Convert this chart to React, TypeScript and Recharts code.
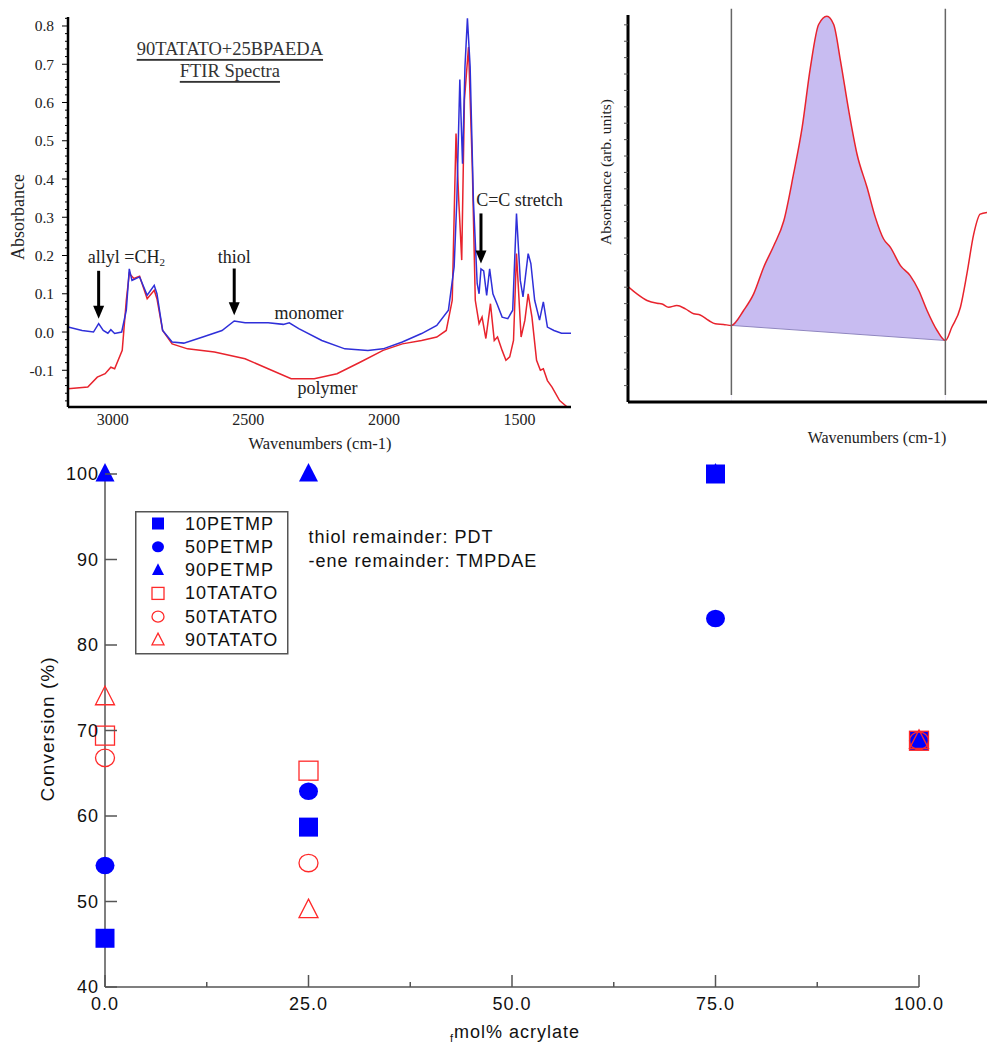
import React from 'react';
import {
  ComposedChart,
  Line,
  Area,
  XAxis,
  YAxis,
  ReferenceDot,
  ReferenceLine,
  ScatterChart,
  Scatter,
  Legend,
} from 'recharts';

const SERIF = '"Liberation Serif", "Times New Roman", serif';
const SANS = '"Liberation Sans", Arial, sans-serif';

// ---- top-left: FTIR spectra ----
const monomerWn = [
  3165, 3113, 3071, 3052, 3035, 3018, 3007, 2993, 2967, 2950, 2939, 2929, 2901, 2873, 2847, 2837,
  2816, 2781, 2738, 2668, 2597, 2552, 2512, 2427, 2371, 2349, 2314, 2229, 2144, 2059, 2003, 1932,
  1861, 1805, 1762, 1741, 1731, 1720, 1710, 1701, 1692, 1682, 1670, 1656, 1649, 1642, 1632, 1621,
  1610, 1598, 1583, 1564, 1543, 1525, 1511, 1497, 1487, 1468, 1458, 1444, 1426, 1412, 1397, 1373,
  1345, 1310,
];
const monomerAbs = [
  0.013, 0.004, 0.0, 0.022, 0.004, -0.003, 0.006, -0.004, 0.0, 0.057, 0.165, 0.135, 0.144, 0.096,
  0.122, 0.1, 0.004, -0.026, -0.029, -0.013, 0.004, 0.029, 0.024, 0.024, 0.02, 0.024, 0.009, -0.022,
  -0.044, -0.048, -0.044, -0.026, -0.004, 0.017, 0.057, 0.17, 0.345, 0.66, 0.44, 0.694, 0.82, 0.694,
  0.345, 0.127, 0.1, 0.165, 0.16, 0.096, 0.165, 0.1, 0.074, 0.039, 0.035, 0.057, 0.31, 0.135, 0.092,
  0.205, 0.179, 0.083, 0.031, 0.079, 0.013, 0.004, -0.003, -0.003,
];
const polymerWn = [
  3165, 3092, 3057, 3028, 3007, 2993, 2965, 2950, 2939, 2922, 2901, 2873, 2847, 2837, 2816, 2781,
  2724, 2625, 2512, 2427, 2342, 2257, 2173, 2088, 2003, 1932, 1861, 1805, 1770, 1748, 1734, 1724,
  1713, 1703, 1688, 1674, 1663, 1649, 1638, 1624, 1607, 1593, 1581, 1564, 1550, 1536, 1522, 1511,
  1494, 1480, 1468, 1454, 1437, 1423, 1412, 1397, 1380, 1352, 1324, 1310,
];
const polymerAbs = [
  -0.148, -0.144, -0.118, -0.109, -0.092, -0.096, -0.048, 0.083, 0.153, 0.14, 0.146, 0.087, 0.109,
  0.087, 0.004, -0.031, -0.044, -0.052, -0.07, -0.096, -0.122, -0.122, -0.109, -0.079, -0.048,
  -0.031, -0.022, -0.013, 0.004, 0.083, 0.519, 0.345, 0.188, 0.607, 0.745, 0.432, 0.083, 0.022,
  0.039, -0.017, 0.074, -0.022, -0.013, -0.048, -0.074, -0.065, -0.022, 0.205, -0.013, 0.031, 0.1,
  0.039, -0.074, -0.1, -0.096, -0.127, -0.144, -0.179, -0.196, -0.196,
];
const wnTicks = [3000, 2500, 2000, 1500];

// arrows: wavenumber, top of shaft, tip
const arrowWn = [3052, 2552, 1642];
const arrowTop = [0.16, 0.166, 0.31];
const arrowTip = [0.035, 0.044, 0.179];

const notes = [
  { text: 'thiol', wn: 2552, abs: 0.196 },
  { text: 'monomer', wn: 2276, abs: 0.05 },
  { text: 'polymer', wn: 2208, abs: -0.146 },
  { text: 'C=C stretch', wn: 1500, abs: 0.345 },
];

// ---- top-right: integrated band ----
const bandX = [
  0, 2.5, 5.3, 8.1, 9.5, 11.3, 13.6, 16.0, 18.3, 20.1, 22.5, 24.3, 26.6, 28.8, 32.2, 35.0, 37.8,
  40.6, 43.4, 46.1, 48.5, 50.8, 53.1, 55.4, 57.3, 59.2, 61.5, 63.8, 66.6, 68.9, 71.2, 73.1, 75.9,
  78.6, 81.0, 83.3, 86.1, 88.4, 90.2, 92.6, 94.4, 96.3, 98.1, 100,
];
const bandY = [
  7.04, 6.59, 6.19, 6.02, 5.98, 5.78, 5.88, 5.68, 5.38, 5.31, 4.97, 4.77, 4.73, 4.67, 5.58, 6.59,
  8.22, 9.53, 11.05, 13.89, 16.73, 20.39, 23.02, 23.53, 23.02, 20.79, 17.75, 15.11, 13.08, 11.26,
  9.94, 9.43, 8.32, 7.71, 6.8, 5.58, 4.36, 3.75, 4.56, 5.78, 7.81, 10.24, 11.46, 11.56,
];
const bandLimits = [28.8, 88.4];
const baselineY = [4.67, 3.75];
const bandTicks = [1, 2, 3, 4, 5, 6, 7, 8, 9, 10, 11, 12, 13, 14, 15, 16, 17, 18, 19, 20, 21, 22, 23];

// ---- bottom: conversion vs acrylate ----
const acrylate = [0, 25, 75, 100];
const petmp10 = [45.7, 58.7, 100, 68.8];
const petmp50 = [54.2, 62.9, 83.1, 68.8];
const petmp90 = [100, 100, 100, 68.8];
const tatato10 = [69.4, 65.3, null, 68.8];
const tatato50 = [66.8, 54.5, null, 68.8];
const tatato90 = [73.9, 49.0, null, 68.8];
const acrylateTicks = [0, 12.5, 25, 37.5, 50, 62.5, 75, 87.5, 100];
const convTicks = [40, 50, 60, 70, 80, 90, 100];

const BLUE = '#0000ff';
const RED = '#ff2a2a';

const series = [
  { name: '10PETMP', values: petmp10, shape: 'square', filled: true, color: BLUE },
  { name: '50PETMP', values: petmp50, shape: 'circle', filled: true, color: BLUE },
  { name: '90PETMP', values: petmp90, shape: 'triangle', filled: true, color: BLUE },
  { name: '10TATATO', values: tatato10, shape: 'square', filled: false, color: RED },
  { name: '50TATATO', values: tatato50, shape: 'circle', filled: false, color: RED },
  { name: '90TATATO', values: tatato90, shape: 'triangle', filled: false, color: RED },
];

const monomerData = monomerWn.map((wn, i) => ({ wn, a: monomerAbs[i] }));
const polymerData = polymerWn.map((wn, i) => ({ wn, a: polymerAbs[i] }));
const absMinor: number[] = [];
for (let i = -9; i <= 41; i++) absMinor.push(i / 50);

const bandData = bandX.map((x, i) => ({ x, y: bandY[i] }));
const peakData = bandData.filter((d) => d.x >= bandLimits[0] && d.x <= bandLimits[1]);
const baselineData = bandLimits.map((x, i) => ({ x, y: baselineY[i] }));

const isMajor = (v: number) => Math.abs(v * 10 - Math.round(v * 10)) < 1e-6;

const AbsTick = (p: any) => {
  const v = p.payload.value;
  const major = isMajor(v);
  return (
    <g>
      <line x1={p.x} x2={p.x - (major ? 6 : 3)} y1={p.y} y2={p.y} stroke="#000" strokeWidth={1} />
      {major && (
        <text x={p.x - 14} y={p.y} textAnchor="end" dominantBaseline="central" fontFamily={SERIF} fontSize={15.5} fill="#222">
          {v.toFixed(1)}
        </text>
      )}
    </g>
  );
};

const WnTick = (p: any) => (
  <text x={p.x} y={p.y + 18} textAnchor="middle" fontFamily={SERIF} fontSize={16} fill="#222">
    {p.payload.value}
  </text>
);

const FtirChart = () => (
  <ComposedChart width={575} height={460} margin={{ top: 17, right: 4, bottom: 0, left: 0 }}>
    <XAxis
      type="number"
      dataKey="wn"
      domain={[1310, 3165]}
      reversed
      allowDataOverflow
      ticks={wnTicks}
      interval={0}
      tickSize={0}
      tickMargin={0}
      tickLine={false}
      tick={WnTick}
      axisLine={{ stroke: '#000', strokeWidth: 2.5 }}
      height={53}
      label={{
        content: () => (
          <text x={320} y={443} textAnchor="middle" dominantBaseline="central" fontFamily={SERIF} fontSize={16.5} fill="#222">
            Wavenumbers (cm-1)
          </text>
        ),
      }}
    />
    <YAxis
      type="number"
      domain={[-0.196, 0.8235]}
      allowDataOverflow
      ticks={absMinor}
      interval={0}
      tickSize={0}
      tickMargin={0}
      tickLine={false}
      tick={AbsTick}
      axisLine={{ stroke: '#000', strokeWidth: 2.5 }}
      width={68}
      label={{
        content: () => (
          <text x={18} y={217} transform="rotate(-90 18 217)" textAnchor="middle" dominantBaseline="central" fontFamily={SERIF} fontSize={18} fill="#222">
            Absorbance
          </text>
        ),
      }}
    />
    <Line data={polymerData} dataKey="a" type="linear" stroke="#e8232d" strokeWidth={1.5} dot={false} isAnimationActive={false} />
    <Line data={monomerData} dataKey="a" type="linear" stroke="#2f2fd9" strokeWidth={1.5} dot={false} isAnimationActive={false} />
    {arrowWn.map((wn, i) => (
      <ReferenceLine
        key={'s' + i}
        segment={[
          { x: wn, y: arrowTop[i] },
          { x: wn, y: arrowTip[i] + 0.026 },
        ]}
        stroke="#000"
        strokeWidth={3}
      />
    ))}
    {arrowWn.map((wn, i) => (
      <ReferenceDot
        key={'h' + i}
        x={wn}
        y={arrowTip[i]}
        shape={(p: any) => (
          <path d={`M${p.cx - 5.5},${p.cy - 13} L${p.cx + 5.5},${p.cy - 13} L${p.cx},${p.cy} Z`} fill="#000" />
        )}
      />
    ))}
    {notes.map((n) => (
      <ReferenceDot
        key={n.text}
        x={n.wn}
        y={n.abs}
        shape={(p: any) => (
          <text x={p.cx} y={p.cy} textAnchor="middle" dominantBaseline="central" fontFamily={SERIF} fontSize={18} fill="#222">
            {n.text}
          </text>
        )}
      />
    ))}
    <ReferenceDot
      x={3092}
      y={0.196}
      shape={(p: any) => (
        <text x={p.cx} y={p.cy} dominantBaseline="central" fontFamily={SERIF} fontSize={18} fill="#222">
          allyl =CH
          <tspan fontSize={11} dy={5}>2</tspan>
        </text>
      )}
    />
    <ReferenceDot
      x={2568}
      y={0.74}
      shape={(p: any) => (
        <g fontFamily={SERIF} fontSize={18.5} fill="#333" textAnchor="middle" style={{ textDecoration: 'underline' }}>
          <text x={p.cx} y={p.cy} dominantBaseline="central">90TATATO+25BPAEDA</text>
          <text x={p.cx} y={p.cy + 22} dominantBaseline="central">FTIR Spectra</text>
        </g>
      )}
    />
  </ComposedChart>
);

const BandTick = (p: any) => (
  <line x1={p.x} x2={p.x - 4} y1={p.y} y2={p.y} stroke="#555" strokeWidth={1} />
);

const BandChart = () => (
  <ComposedChart width={408} height={450} margin={{ top: 15, right: 11, bottom: 0, left: 0 }}>
    <XAxis
      type="number"
      dataKey="x"
      domain={[0, 100]}
      allowDataOverflow
      tick={false}
      tickLine={false}
      axisLine={{ stroke: '#000', strokeWidth: 3 }}
      height={48}
      label={{
        content: () => (
          <text x={287} y={437} textAnchor="middle" dominantBaseline="central" fontFamily={SERIF} fontSize={16} fill="#222">
            Wavenumbers (cm-1)
          </text>
        ),
      }}
    />
    <YAxis
      type="number"
      domain={[0, 23.6]}
      allowDataOverflow
      ticks={bandTicks}
      interval={0}
      tickSize={0}
      tickMargin={0}
      tickLine={false}
      tick={BandTick}
      axisLine={{ stroke: '#000', strokeWidth: 3 }}
      width={38}
      label={{
        content: () => (
          <text x={15} y={172} transform="rotate(-90 15 172)" textAnchor="middle" dominantBaseline="central" fontFamily={SERIF} fontSize={15.5} fill="#222">
            Absorbance  (arb. units)
          </text>
        ),
      }}
    />
    <Area data={peakData} dataKey="y" type="monotone" fill="#c8bcf1" fillOpacity={1} stroke="none" isAnimationActive={false} />
    <Area data={baselineData} dataKey="y" type="linear" fill="#ffffff" fillOpacity={1} stroke="#8f86bf" strokeWidth={1} isAnimationActive={false} />
    <Line data={bandData} dataKey="y" type="monotone" stroke="#e8232d" strokeWidth={1.5} dot={false} isAnimationActive={false} />
    {bandLimits.map((x) => (
      <ReferenceLine
        key={x}
        segment={[
          { x, y: 0.43 },
          { x, y: 23.98 },
        ]}
        stroke="#666"
        strokeWidth={1.5}
        ifOverflow="visible"
      />
    ))}
  </ComposedChart>
);

const Marker = ({ kind, filled, color, cx, cy, size }: any) => {
  const h = size / 2;
  const fill = filled ? color : 'none';
  const sw = filled ? 0 : 1.3;
  if (kind === 'square') {
    return <rect x={cx - h} y={cy - h} width={size} height={size} fill={fill} stroke={color} strokeWidth={sw} />;
  }
  if (kind === 'circle') {
    return <ellipse cx={cx} cy={cy} rx={h} ry={h * 0.92} fill={fill} stroke={color} strokeWidth={sw} />;
  }
  return (
    <path
      d={`M${cx},${cy - h * 1.15} L${cx + h},${cy + h * 0.8} L${cx - h},${cy + h * 0.8} Z`}
      fill={fill}
      stroke={color}
      strokeWidth={sw}
    />
  );
};

const AXIS_GREY = '#555';

const BottomTick = (p: any) => {
  const v = p.payload.value;
  const major = v % 25 === 0;
  return (
    <g>
      <line x1={p.x} x2={p.x} y1={p.y} y2={p.y - (major ? 12 : 5)} stroke={AXIS_GREY} strokeWidth={1.5} />
      {major && (
        <text x={p.x} y={p.y + 22.5} textAnchor="middle" fontFamily={SANS} fontSize={18} letterSpacing={1} fill="#111">
          {v.toFixed(1)}
        </text>
      )}
    </g>
  );
};

const TopTick = (p: any) => {
  const major = p.payload.value % 25 === 0;
  return <line x1={p.x} x2={p.x} y1={p.y} y2={p.y + (major ? 12 : 5)} stroke={AXIS_GREY} strokeWidth={1.5} />;
};

const LeftTick = (p: any) => (
  <g>
    <line x1={p.x} x2={p.x + 12} y1={p.y} y2={p.y} stroke={AXIS_GREY} strokeWidth={1.5} />
    <text x={p.x - 6} y={p.y} textAnchor="end" dominantBaseline="central" fontFamily={SANS} fontSize={18} letterSpacing={1} fill="#111">
      {p.payload.value}
    </text>
  </g>
);

const RightTick = (p: any) => (
  <line x1={p.x} x2={p.x - 12} y1={p.y} y2={p.y} stroke={AXIS_GREY} strokeWidth={1.5} />
);

const renderLegend = () => (
  <svg width={154} height={144} style={{ display: 'block' }}>
    <rect x={0.75} y={0.75} width={152} height={142} fill="#fff" stroke={AXIS_GREY} strokeWidth={1.5} />
    {series.map((s, i) => (
      <g key={s.name}>
        <Marker kind={s.shape} filled={s.filled} color={s.color} cx={23} cy={12.5 + i * 23.3} size={12} />
        <text x={50} y={12.5 + i * 23.3} dominantBaseline="central" fontFamily={SANS} fontSize={18} letterSpacing={1} fill="#111">
          {s.name}
        </text>
      </g>
    ))}
  </svg>
);

const ConversionChart = () => (
  <ScatterChart width={998} height={595} margin={{ top: 19, right: 79, bottom: 0, left: 0 }}>
    <XAxis
      type="number"
      dataKey="x"
      domain={[0, 100]}
      ticks={acrylateTicks}
      interval={0}
      tickSize={0}
      tickMargin={0}
      tickLine={false}
      tick={BottomTick}
      axisLine={{ stroke: AXIS_GREY, strokeWidth: 1.5 }}
      height={63}
      label={{
        content: () => (
          <text x={515} y={577} textAnchor="middle" dominantBaseline="central" fontFamily={SANS} fontSize={18} letterSpacing={1} fill="#111">
            <tspan fontSize={11} dy={6}>f</tspan>
            <tspan dy={-6}>mol% acrylate</tspan>
          </text>
        ),
      }}
    />
    <XAxis
      xAxisId="top"
      orientation="top"
      type="number"
      domain={[0, 100]}
      allowDataOverflow
      ticks={acrylateTicks}
      interval={0}
      tickSize={0}
      tickMargin={0}
      tickLine={false}
      tick={TopTick}
      axisLine={{ stroke: AXIS_GREY, strokeWidth: 1.5 }}
      height={0}
    />
    <YAxis
      type="number"
      dataKey="y"
      domain={[40, 100]}
      ticks={convTicks}
      interval={0}
      tickSize={0}
      tickMargin={0}
      tickLine={false}
      tick={LeftTick}
      axisLine={{ stroke: AXIS_GREY, strokeWidth: 1.5 }}
      width={105}
      label={{
        content: () => (
          <text x={47} y={274} transform="rotate(-90 47 274)" textAnchor="middle" dominantBaseline="central" fontFamily={SANS} fontSize={19} letterSpacing={1} fill="#111">
            Conversion (%)
          </text>
        ),
      }}
    />
    <YAxis
      yAxisId="right"
      orientation="right"
      type="number"
      domain={[40, 100]}
      allowDataOverflow
      ticks={convTicks}
      interval={0}
      tickSize={0}
      tickMargin={0}
      tickLine={false}
      tick={RightTick}
      axisLine={{ stroke: AXIS_GREY, strokeWidth: 1.5 }}
      width={0}
    />
    <Legend
      layout="vertical"
      align="center"
      verticalAlign="middle"
      content={renderLegend}
      wrapperStyle={{ left: 135, top: 56, width: 154, height: 144 }}
    />
    <ReferenceDot
      x={25}
      y={92.6}
      shape={(p: any) => (
        <g fontFamily={SANS} fontSize={18} letterSpacing={1} fill="#111">
          <text x={p.cx} y={p.cy} dominantBaseline="central">thiol remainder: PDT</text>
          <text x={p.cx} y={p.cy + 24} dominantBaseline="central">-ene remainder: TMPDAE</text>
        </g>
      )}
    />
    {series.map((s) => (
      <Scatter
        key={s.name}
        name={s.name}
        data={acrylate
          .map((x, i) => ({ x, y: s.values[i] }))
          .filter((d) => d.y !== null)}
        isAnimationActive={false}
        shape={(p: any) => <Marker kind={s.shape} filled={s.filled} color={s.color} cx={p.cx} cy={p.cy} size={19} />}
      />
    ))}
  </ScatterChart>
);

export default function App() {
  return (
    <div style={{ position: 'absolute', left: 0, top: 0, width: 998, height: 1050, background: '#fff' }}>
      <div style={{ position: 'absolute', left: 0, top: 0 }}>
        <FtirChart />
      </div>
      <div style={{ position: 'absolute', left: 590, top: 0 }}>
        <BandChart />
      </div>
      <div style={{ position: 'absolute', left: 0, top: 455 }}>
        <ConversionChart />
      </div>
    </div>
  );
}
